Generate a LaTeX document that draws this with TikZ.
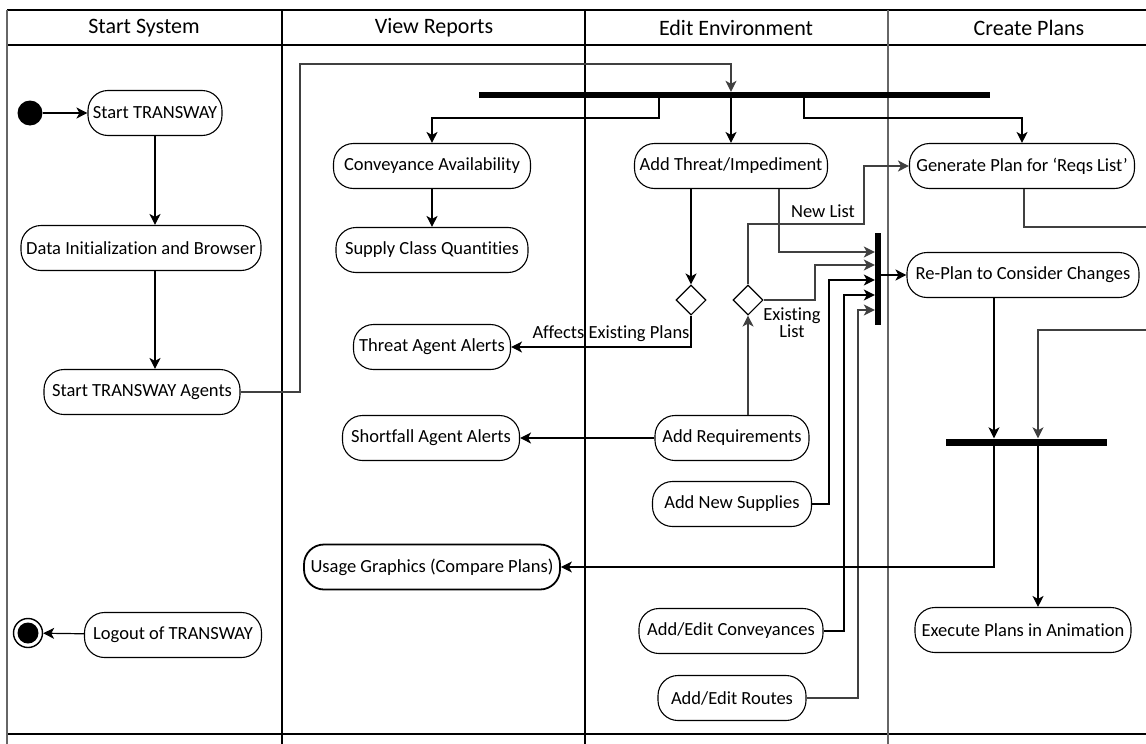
\documentclass[tikz,border=0pt]{standalone}
\usepackage{fontspec}
\setmainfont{Carlito}[Ligatures=NoCommon]
\usetikzlibrary{shapes.geometric,arrows.meta}
\begin{document}
\begin{tikzpicture}[x=1pt,y=-1pt,
  act/.style={draw, line width=1.1pt, rounded corners=20pt, minimum height=45pt, inner xsep=2pt, inner ysep=0pt, fill=white, font=\fontsize{18.5}{20}\selectfont},
  hdr/.style={font=\fontsize{22}{24}\selectfont, inner sep=0pt},
  lbl/.style={font=\fontsize{18.5}{19}\selectfont, inner sep=0pt, align=center},
  barnode/.style={fill=black, draw=none, inner sep=0pt},
  dec/.style={diamond, draw, line width=1.1pt, fill=white, minimum width=30pt, minimum height=30pt, inner sep=0pt},
  frame/.style={line width=1.3pt, black},
  gframe/.style={line width=1.7pt, black!60},
  tip/.tip={Stealth[length=11pt,width=11pt,inset=3pt]},
  arr/.style={-tip, line width=1.2pt, black},
  garr/.style={-tip, line width=1.2pt, black!75},
  gline/.style={line width=1.2pt, black!75}
]
\clip (0,0) rectangle (1146,744);
\fill[white] (0,0) rectangle (1146,744);
% swimlane frame
\draw[frame] (7,10) -- (1160,10);
\draw[frame] (7,45) -- (1160,45);
\draw[frame] (7,734) -- (1160,734);
\draw[gframe] (7,10) -- (7,750);
\draw[frame] (282,10) -- (282,750);
\draw[frame] (585,10) -- (585,750);
\draw[gframe] (888,10) -- (888,750);
\node[hdr] (h1) at (144,28) {Start System};
\node[hdr] (h2) at (434,28) {View Reports};
\node[hdr] (h3) at (736,28) {Edit Environment};
\node[hdr] (h4) at (1029,28) {Create Plans};

% Start System lane
\node[circle, fill=black, minimum size=25pt, inner sep=0pt] (init) at (30,113) {};
\node[act, minimum width=134pt] (startT) at (155,113) {Start TRANSWAY};
\node[act, minimum width=240pt] (dinit) at (141,248) {Data Initialization and Browser};
\node[act, minimum width=196pt] (agents) at (142,392) {Start TRANSWAY Agents};
\node[act, minimum width=177pt] (logout) at (173,635) {Logout of TRANSWAY};
\node[circle, draw, line width=1.4pt, minimum size=29pt, inner sep=0pt] (final) at (28,633) {};
\fill (final.center) circle (10.5pt);

% View Reports lane
\node[act, minimum width=197pt] (conv) at (432,166) {Conveyance Availability};
\node[act, minimum width=192pt] (supply) at (432,250) {Supply Class Quantities};
\node[act, minimum width=157pt] (threat) at (432,347) {Threat Agent Alerts};
\node[act, minimum width=177pt] (shortfall) at (431,438) {Shortfall Agent Alerts};
\node[act, line width=1.8pt, minimum width=256pt] (usage) at (432,567) {Usage Graphics (Compare Plans)};

% Edit Environment lane
\node[act, minimum width=193pt] (threatimp) at (731,166) {Add Threat/Impediment};
\node[act, minimum width=154pt] (addreq) at (732,438) {Add Requirements};
\node[act, minimum width=159pt] (addsup) at (732,504) {Add New Supplies};
\node[act, minimum width=184pt] (addconv) at (731,631) {Add/Edit Conveyances};
\node[act, minimum width=148pt] (addroutes) at (732,698) {Add/Edit Routes};
\node[dec] (d1) at (691,300) {};
\node[dec] (d2) at (748,300) {};

% Create Plans lane
\node[act, minimum width=225pt] (gen) at (1022,166) {Generate Plan for ‘Reqs List’};
\node[act, minimum width=232pt] (replan) at (1023,275) {Re-Plan to Consider Changes};
\node[act, minimum width=216pt] (execute) at (1023,630) {Execute Plans in Animation};

% bars
\node[barnode, minimum width=511pt, minimum height=6pt] (fork) at (734.5,95) {};
\node[barnode, minimum width=6pt, minimum height=92pt] (join) at (878,279) {};
\node[barnode, minimum width=161pt, minimum height=7pt] (bar2) at (1026.5,442) {};

% labels
\node[lbl] (lab1) at (611,334) {Affects Existing Plans};
\node[lbl] (lab2) at (823,211) {New List};
\node[lbl, text width=60pt] (lab3) at (792,323) {Existing\\[-2pt]List};

% bend coordinates
\coordinate (k1) at (300,64);
\coordinate (k2) at (659,118);
\coordinate (k3) at (804,118);
\coordinate (k4) at (779,252);
\coordinate (k5) at (864,224);
\coordinate (k6) at (815,265);
\coordinate (k7) at (829,280);
\coordinate (k8) at (844,295);
\coordinate (k9) at (858,310);
\coordinate (k10) at (1024,227);
\coordinate (r1) at (1160,227);
\coordinate (r2) at (1160,330);
\coordinate (k11) at (1038,330);
\coordinate (k12) at (994,567);

% connectors
\draw[arr] (init) -- (startT);
\draw[arr] (startT.south) -- (startT.south |- dinit.north);
\draw[arr] (dinit.south -| startT) -- (agents.north -| startT);
\draw[garr] (agents.east) -| (k1) -| (threatimp |- fork.north);
\draw[arr] (k2 |- fork.south) -- (k2) -| (conv.north);
\draw[arr] (threatimp |- fork.south) -- (threatimp.north);
\draw[arr] (k3 |- fork.south) -- (k3) -| (gen.north);
\draw[arr] (conv) -- (supply);
\draw[arr] (d1 |- threatimp.south) -- (d1.north);
\draw[garr] (k4 |- threatimp.south) -- (k4) -- (k4 -| join.west);
\draw[arr] (d1.south) |- (threat.east);
\draw[garr] (d2 |- addreq.north) -- (d2.south);
\draw[garr] (d2.north) |- (k5) |- (gen.west);
\draw[garr] (d2.east) -| (k6) -- (k6 -| join.west);
\draw[arr] (addreq.west) -- (addreq.west -| shortfall.east);
\draw[arr] (addsup.east) -| (k7) -- (k7 -| join.west);
\draw[arr] (addconv.east) -| (k8) -- (k8 -| join.west);
\draw[garr] (addroutes.east) -| (k9) -- (k9 -| join.west);
\draw[arr] (join.east |- replan.west) -- (replan.west);
\draw[gline] (gen.south -| k10) -- (k10) -- (r1);
\draw[garr] (r2) -- (k11) -- (k11 |- bar2.north);
\draw[arr] (replan.south -| k12) -- (k12 |- bar2.north);
\draw[arr] (k12 |- bar2.south) -- (k12) -- (usage.east);
\draw[arr] (k11 |- bar2.south) -- (k11 |- execute.north);
\draw[arr] (logout) -- (final);
\end{tikzpicture}
\end{document}
